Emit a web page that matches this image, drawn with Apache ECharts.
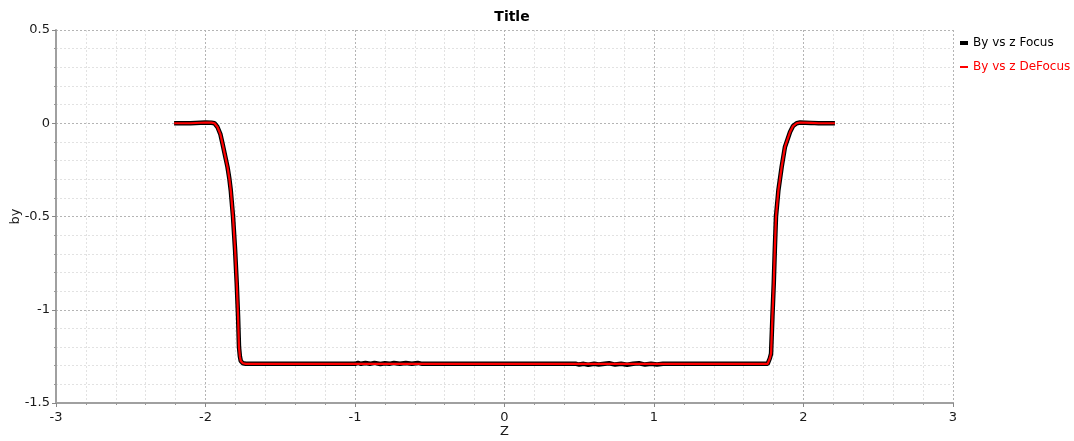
<!DOCTYPE html>
<html>
<head>
    <meta charset="utf-8">
    <title>By vs z</title>
    <script src="https://cdn.jsdelivr.net/npm/echarts@6/dist/echarts.min.js"></script>
    <style>
        html, body {margin:0;padding:0;background:#fff;}
        #chart {width:1074px;height:441px;}
    </style>
</head>
<body>
<div id="chart"></div>
<script>
    // By vs z, Focus (black, with a little noise on the flat bottom)
    const zFocus = [-2.21, -2.1, -2.0, -1.96, -1.94, -1.92, -1.9, -1.886, -1.87, -1.853, -1.84, -1.831, -1.816,
        -1.802, -1.791, -1.782, -1.776, -1.77, -1.764, -1.75, -1.73,
        -1.0, -0.98, -0.96, -0.93, -0.9, -0.87, -0.83, -0.8, -0.77, -0.74, -0.7, -0.66, -0.62, -0.58, -0.55,
        0.05, 0.06, 0.07,
        0.48, 0.5, 0.53, 0.56, 0.6, 0.63, 0.67, 0.7, 0.74, 0.78, 0.82, 0.86, 0.9, 0.94, 0.98, 1.02, 1.06,
        1.76, 1.765, 1.775, 1.783, 1.792, 1.801, 1.808, 1.816, 1.832, 1.854, 1.876, 1.91, 1.93, 1.954, 1.977,
        2.05, 2.1, 2.21];
    const byFocus = [0, 0, 0.004, 0.003, 0, -0.02, -0.06, -0.11, -0.17, -0.234, -0.3, -0.36, -0.5,
        -0.68, -0.86, -1.04, -1.2, -1.25, -1.275, -1.287, -1.29,
        -1.29, -1.285, -1.29, -1.286, -1.29, -1.285, -1.291, -1.287, -1.29, -1.285, -1.29, -1.286, -1.29, -1.285, -1.29,
        -1.29, -1.297, -1.29,
        -1.29, -1.294, -1.29, -1.295, -1.29, -1.294, -1.29, -1.287, -1.294, -1.29, -1.295, -1.29, -1.287, -1.294, -1.29, -1.294, -1.29,
        -1.29, -1.285, -1.26, -1.235, -1.04, -0.86, -0.68, -0.5, -0.36, -0.234, -0.127, -0.047, -0.015, 0, 0.004,
        0.002, 0, 0];

    // By vs z, DeFocus (red)
    const zDeFocus = [-2.21, -2.1, -2.0, -1.96, -1.94, -1.92, -1.9, -1.886, -1.87, -1.853, -1.84, -1.831, -1.816,
        -1.802, -1.791, -1.782, -1.776, -1.77, -1.764, -1.75, -1.73,
        1.76, 1.765, 1.775, 1.783, 1.792, 1.801, 1.808, 1.816, 1.832, 1.854, 1.876, 1.91, 1.93, 1.954, 1.977,
        2.05, 2.1, 2.21];
    const byDeFocus = [0, 0, 0.004, 0.003, 0, -0.02, -0.06, -0.11, -0.17, -0.234, -0.3, -0.36, -0.5,
        -0.68, -0.86, -1.04, -1.2, -1.25, -1.275, -1.287, -1.29,
        -1.29, -1.285, -1.26, -1.235, -1.04, -0.86, -0.68, -0.5, -0.36, -0.234, -0.127, -0.047, -0.015, 0, 0.004,
        0.002, 0, 0];

    const pairs = (xs, ys) => xs.map((x, i) => [x, ys[i]]);

    const font = 'DejaVu Sans';
    const chart = echarts.init(document.getElementById('chart'));

    const axisCommon = {
        axisLine: {show: true, onZero: false, lineStyle: {color: '#a0a0a0', width: 2}},
        axisTick: {show: true, length: 4, lineStyle: {color: '#888'}},
        minorTick: {show: true, splitNumber: 5, length: 2, lineStyle: {color: '#999'}},
        splitLine: {show: true, lineStyle: {color: '#b4b4b4', type: [2, 2], width: 1}},
        minorSplitLine: {show: true, lineStyle: {color: '#e2e2e2', type: [2, 2], width: 1}},
        axisLabel: {color: '#1a1a1a', fontFamily: font, fontSize: 13},
        nameTextStyle: {color: '#1a1a1a', fontFamily: font, fontSize: 13},
        nameMoveOverlap: false
    };

    chart.setOption({
        animation: false,
        title: {
            text: 'Title', left: 507, top: 5, textAlign: 'center',
            textStyle: {fontFamily: font, fontSize: 14, fontWeight: 'bold', color: '#000'}
        },
        legend: [{
            orient: 'vertical', left: 955, top: 32, itemWidth: 8, itemHeight: 4, itemGap: 12,
            data: [{name: 'By vs z Focus', icon: 'rect', itemStyle: {color: '#000'}, textStyle: {color: '#000'}}],
            textStyle: {fontFamily: font, fontSize: 12, padding: [0, 0, 0, 0]}
        }, {
            orient: 'vertical', left: 955, top: 56, itemWidth: 8, itemHeight: 2, itemGap: 12,
            data: [{name: 'By vs z DeFocus', icon: 'rect', itemStyle: {color: '#ff0000'}, textStyle: {color: '#ff0000'}}],
            textStyle: {fontFamily: font, fontSize: 12, padding: [0, 0, 0, 0]}
        }],
        grid: {left: 56, right: 121, top: 30, bottom: 38, containLabel: false, outerBoundsMode: 'none'},
        xAxis: Object.assign({}, axisCommon, {
            type: 'value', min: -3, max: 3, interval: 1,
            name: 'Z', nameLocation: 'middle', nameGap: 22
        }),
        yAxis: Object.assign({}, axisCommon, {
            type: 'value', min: -1.5, max: 0.5, interval: 0.5,
            name: 'by', nameLocation: 'middle', nameGap: 34,
            axisLabel: Object.assign({}, axisCommon.axisLabel, {margin: 6})
        }),
        series: [{
            name: 'By vs z Focus', type: 'line', showSymbol: false, symbol: 'none',
            data: pairs(zFocus, byFocus),
            lineStyle: {color: '#000', width: 4.5}, itemStyle: {color: '#000'}, z: 2
        }, {
            name: 'By vs z DeFocus', type: 'line', showSymbol: false, symbol: 'none',
            data: pairs(zDeFocus, byDeFocus),
            lineStyle: {color: '#ff0000', width: 2.2}, itemStyle: {color: '#ff0000'}, z: 3
        }]
    });
</script>
</body>
</html>
